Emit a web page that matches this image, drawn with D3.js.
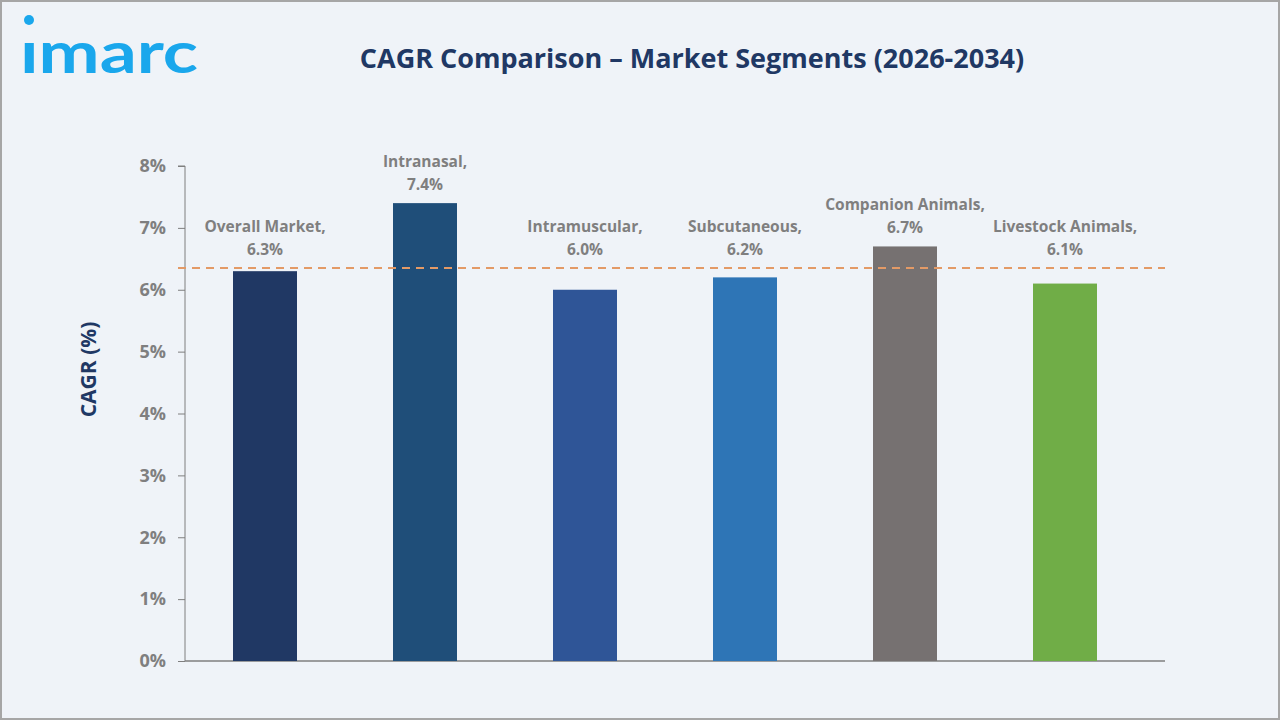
<!DOCTYPE html>
<html>
<head>
<meta charset="utf-8">
<script src="https://cdn.jsdelivr.net/npm/d3@7"></script>
<style>
  html, body { margin: 0; padding: 0; background: #eff3f8; }
  svg { display: block; }
</style>
</head>
<body>
<div id="chart"></div>
<script>
// chart data
const categories = ["Overall Market", "Intranasal", "Intramuscular", "Subcutaneous", "Companion Animals", "Livestock Animals"];
const cagrValues = [6.3, 7.4, 6.0, 6.2, 6.7, 6.1];
const barColors = ["#203864", "#1f4e79", "#2f5597", "#2e75b6", "#767171", "#70ad47"];
const yTicks = [0, 1, 2, 3, 4, 5, 6, 7, 8];
const referenceLine = 6.35;

const width = 1280, height = 720;
const margin = { top: 166, right: 115, bottom: 59, left: 185 };
const innerWidth = width - margin.left - margin.right;
const innerHeight = height - margin.top - margin.bottom;
const bandSpan = 960; // bars sit a bit left of the axis end

const svg = d3.select("#chart").append("svg")
    .attr("width", width)
    .attr("height", height);

// background + frame
svg.append("rect")
    .attr("x", 1).attr("y", 1)
    .attr("width", width - 2).attr("height", height - 2)
    .attr("fill", "#eff3f8")
    .attr("stroke", "#a6a6a6")
    .attr("stroke-width", 2);

// logo
svg.append("text")
    .attr("x", 20).attr("y", 73)
    .attr("textLength", 178)
    .attr("lengthAdjust", "spacingAndGlyphs")
    .style("font-family", "Lato, 'Noto Sans', sans-serif")
    .style("font-weight", "bold")
    .style("font-size", "58px")
    .style("fill", "#1aa7ec")
    .text("\u0131marc");
svg.append("circle")
    .attr("cx", 29).attr("cy", 20).attr("r", 5)
    .attr("fill", "#1aa7ec");

// title
svg.append("text")
    .attr("x", 692).attr("y", 68)
    .attr("text-anchor", "middle")
    .style("font-family", "'Open Sans', sans-serif")
    .style("font-weight", "bold")
    .style("font-size", "27px")
    .style("fill", "#203864")
    .text("CAGR Comparison \u2013 Market Segments (2026-2034)");

const g = svg.append("g").attr("transform", `translate(${margin.left},${margin.top})`);

const x = d3.scaleBand()
    .domain(categories)
    .range([0, bandSpan])
    .paddingInner(0.6)
    .paddingOuter(0.3);

const y = d3.scaleLinear()
    .domain([0, 8])
    .range([innerHeight, 0]);

// y axis
const yAxis = g.append("g")
    .call(d3.axisLeft(y).tickValues(yTicks).tickFormat(d => d + "%").tickSize(7).tickPadding(12));
yAxis.select(".domain").attr("stroke", "#7f7f7f").attr("d", `M-7,0H0V${innerHeight}`);
yAxis.selectAll(".tick line").attr("stroke", "#7f7f7f");
yAxis.selectAll(".tick text")
    .style("font-family", "'Open Sans', sans-serif")
    .style("font-weight", "bold")
    .style("font-size", "18px")
    .style("fill", "#7f7f7f");

// x axis baseline
g.append("line")
    .attr("x1", 0).attr("x2", innerWidth)
    .attr("y1", y(0)).attr("y2", y(0))
    .attr("stroke", "#7f7f7f")
    .attr("stroke-width", 1.5);

// y axis title
svg.append("text")
    .attr("transform", `translate(96,${margin.top + innerHeight / 2 - 44}) rotate(-90)`)
    .attr("text-anchor", "middle")
    .style("font-family", "'Open Sans', sans-serif")
    .style("font-weight", "bold")
    .style("font-size", "21px")
    .style("fill", "#203864")
    .text("CAGR (%)");

// bars
g.selectAll(".bar")
    .data(categories)
    .enter()
    .append("rect")
    .attr("class", "bar")
    .attr("x", d => x(d))
    .attr("width", x.bandwidth())
    .attr("y", (d, i) => y(cagrValues[i]))
    .attr("height", (d, i) => y(0) - y(cagrValues[i]))
    .attr("fill", (d, i) => barColors[i]);

// reference dashed line
g.append("line")
    .attr("x1", -7).attr("x2", innerWidth)
    .attr("y1", y(referenceLine)).attr("y2", y(referenceLine))
    .attr("stroke", "#e39a66")
    .attr("stroke-width", 2)
    .attr("stroke-dasharray", "8,6");

// data labels (two lines: name, value)
const labelBase = i => Math.min(y(cagrValues[i]), y(referenceLine)) - 13;
const labelStyle = sel => sel
    .attr("text-anchor", "middle")
    .style("font-family", "'Open Sans', sans-serif")
    .style("font-weight", "bold")
    .style("font-size", "15.5px")
    .style("fill", "#7f7f7f");

g.selectAll(".name-label")
    .data(categories)
    .enter()
    .append("text")
    .attr("class", "name-label")
    .attr("x", d => x(d) + x.bandwidth() / 2)
    .attr("y", (d, i) => labelBase(i) - 23)
    .call(labelStyle)
    .text(d => d + ",");

g.selectAll(".value-label")
    .data(categories)
    .enter()
    .append("text")
    .attr("class", "value-label")
    .attr("x", d => x(d) + x.bandwidth() / 2)
    .attr("y", (d, i) => labelBase(i))
    .call(labelStyle)
    .text((d, i) => cagrValues[i].toFixed(1) + "%");
</script>
</body>
</html>
